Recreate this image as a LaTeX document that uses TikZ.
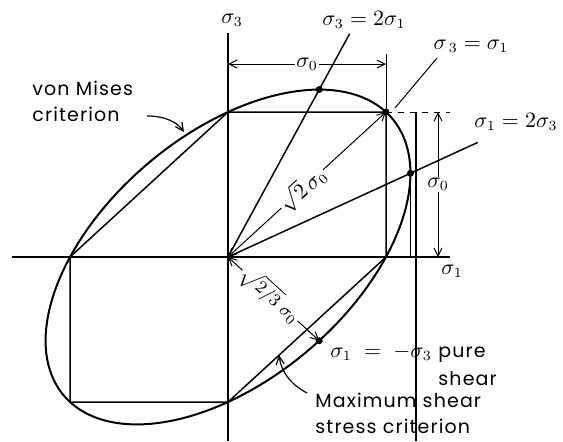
\documentclass[tikz,border=0pt]{standalone}
\usepackage{fontspec}
\setmainfont{Poppins}[LetterSpace=6]
\usetikzlibrary{arrows.meta}
\begin{document}
\begin{tikzpicture}[x=0.5pt,y=-0.5pt,
  axis/.style={line width=1pt},
  edge/.style={line width=0.75pt},
  thinline/.style={line width=0.5pt},
  dim/.style={line width=0.5pt,{Straight Barb[length=4pt,width=4pt]}-{Straight Barb[length=4pt,width=4pt]}},
  lead/.style={line width=0.6pt,-{Straight Barb[length=4pt,width=4pt]}},
  dot/.style={circle,fill=black,inner sep=0pt,minimum size=3.5pt},
  lbl/.style={font=\fontsize{10.5}{12}\selectfont,inner sep=0.5pt},
  mtxt/.style={font=\fontsize{10.5}{12}\selectfont,inner sep=0pt,anchor=base west},
  txt/.style={font=\fontsize{9.5}{11}\selectfont,inner sep=0pt,anchor=base west},
]
\useasboundingbox (0,0) rectangle (563,441);
\fill[white] (0,0) rectangle (563,441);
% sigma-space coordinates
\begin{scope}[shift={(114pt,-128.5pt)}, x={(79pt,0pt)}, y={(0pt,72.5pt)}]
  \coordinate (O) at (0,0);
  \coordinate (T) at (0,1);
  \coordinate (B) at (1,1);
  \coordinate (R) at (1,0);
  \coordinate (Bo) at (0,-1);
  \coordinate (LB) at (-1,-1);
  \coordinate (L) at (-1,0);
  \coordinate (A) at (0.57735,1.1547);
  \coordinate (C) at (1.1547,0.57735);
  \coordinate (D) at (0.57735,-0.57735);
  \coordinate (Aend) at (0.77,1.54);
  \coordinate (Cend) at (1.58,0.79);
  \draw[axis] plot[domain=0:360,samples=145] ({cos(\x)+sin(\x)/sqrt(3)},{cos(\x)-sin(\x)/sqrt(3)});
\end{scope}
% axes
\coordinate (xl) at (12,257);
\coordinate (xr) at (450,257);
\coordinate (yt) at (228,33);
\coordinate (yb) at (228,441);
\draw[axis] (xl) -- (xr);
\draw[axis] (yt) -- (yb);
% Tresca hexagon
\draw[edge] (T) -- (B) -- (R) -- (Bo) -- (LB) -- (L) -- cycle;
% radial lines
\draw[edge] (O) -- (Aend);
\draw[edge] (O) -- (Cend);
\draw[dim] (O) -- node[sloped,fill=white,pos=0.47,lbl] (r2) {$\sqrt{2}\,\sigma_0$} (B);
\draw[dim] (O) -- node[sloped,fill=white,pos=0.46,lbl,font=\fontsize{9.5}{11}\selectfont] (r23) {$\sqrt{2/3}\;\sigma_0$} (D);
% vertical from C to axis
\coordinate (Cx) at (C |- O);
\draw[edge] (C) -- (Cx);
% extension lines
\coordinate (Bext) at (450,112);
\draw[thinline,dashed] (B) -- (Bext);
\coordinate (vt) at (416,112);
\coordinate (vb) at (416,441);
\draw[edge] (vt) -- (vb);
\coordinate (Btop) at (386,54);
\draw[thinline] (B) -- (Btop);
% dimensions
\coordinate (h1) at (228,64);
\coordinate (h2) at (386,64);
\draw[dim] (h1) -- node[fill=white,lbl] (hs) {$\sigma_0$} (h2);
\coordinate (v1) at (438,112);
\coordinate (v2) at (438,257);
\draw[dim] (v1) -- node[fill=white,lbl] (vs) {$\sigma_0$} (v2);
% leader for sigma3 = sigma1
\coordinate (ld1) at (395,108);
\coordinate (ld2) at (437,58);
\draw[thinline] (ld1) -- (ld2);
% dots
\node[dot] (dA) at (A) {};
\node[dot] (dB) at (B) {};
\node[dot] (dC) at (C) {};
\node[dot] (dD) at (D) {};
% curved leaders
\coordinate (vm1) at (147,116);
\coordinate (vm2) at (184,132);
\draw[lead] (vm1) .. controls (165,116) and (177,122) .. (vm2);
\coordinate (ms1) at (307,393);
\coordinate (ms2) at (279,355);
\draw[lead] (ms1) .. controls (290,384) and (281,371) .. (ms2);
% labels
\node[lbl] (s3) at (232,20) {$\sigma_3$};
\node[lbl] (s1) at (452,271) {$\sigma_1$};
\node[lbl] (l1) at (364,20) {$\sigma_3 = 2\sigma_1$};
\node[lbl] (l2) at (471,46) {$\sigma_{\,3} = \sigma_1$};
\node[mtxt] (l3) at (474,127) {$\sigma_1 = 2\sigma_3$};
\node[txt] (vm) at (32,95) {von Mises};
\node[txt] (vm') at (32,121) {criterion};
\node[mtxt] (ps) at (330,357) {$\sigma_1\;=\;-\sigma_3$};
\node[txt] (pu) at (438,357) {pure};
\node[txt] (sh) at (438,385) {shear};
\node[txt] (mx) at (315,407) {Maximum shear};
\node[txt] (mx') at (315,433) {stress criterion};
\end{tikzpicture}
\end{document}
